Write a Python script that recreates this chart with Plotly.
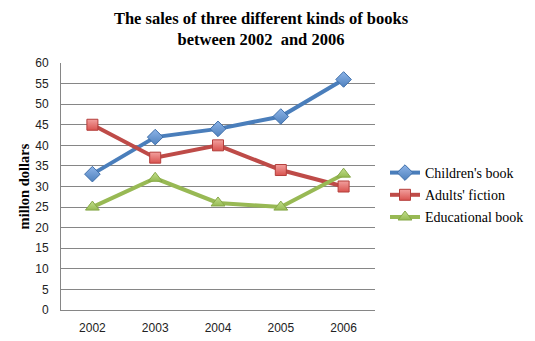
import plotly.graph_objects as go

years = ["2002", "2003", "2004", "2005", "2006"]
childrens_book = [33, 42, 44, 47, 56]
adults_fiction = [45, 37, 40, 34, 30]
educational_book = [25, 32, 26, 25, 33]

# name, values, line colour, marker light, marker dark, border, symbol, size
series = [
    ("Children's book", childrens_book, "#4A7EBB", "#8DB4E8", "#4F81BD", "#3F6FAA", "diamond", 12),
    ("Adults' fiction", adults_fiction, "#BE4B48", "#F2A09E", "#D9534F", "#B43E3B", "square", 11),
    ("Educational book", educational_book, "#98B954", "#C4E08E", "#95BA52", "#86A847", "triangle-up", 12),
]

fig = go.Figure()
for name, vals, color, light, dark, border, symbol, size in series:
    fig.add_trace(go.Scatter(
        x=years, y=vals, name=name, legendgroup=name, mode="lines+markers",
        line=dict(color=color, width=4),
        marker=dict(symbol=symbol, size=size, color=light,
                    gradient=dict(type="vertical", color=dark),
                    line=dict(color=border, width=1)),
    ))

tick_font = dict(family="Liberation Sans", size=12, color="#222")

fig.update_layout(
    width=535, height=341,
    margin=dict(l=61, r=160, t=63, b=31, autoexpand=False),
    paper_bgcolor="white", plot_bgcolor="white",
    title=dict(
        text="The sales of three different kinds of books<br>between 2002  and 2006",
        x=261 / 535, xanchor="center", y=1 - 24 / 341, yanchor="middle",
        font=dict(family="Liberation Serif", size=16.5, color="black", weight="bold"),
    ),
    xaxis=dict(
        type="category", range=[-0.5, 4.5],
        showgrid=False, showline=True, linecolor="#868686", linewidth=1,
        ticks="outside", ticklen=7, tickcolor="rgba(0,0,0,0)",
        tickfont=tick_font, automargin=False,
    ),
    yaxis=dict(
        range=[0, 60], dtick=5, showgrid=True, gridcolor="#868686", gridwidth=1,
        showline=True, linecolor="#868686", linewidth=1, zeroline=False,
        ticks="outside", ticklen=9, tickcolor="rgba(0,0,0,0)",
        tickfont=tick_font, automargin=False,
        title=dict(text="millon dollars", standoff=2,
                   font=dict(family="Liberation Serif", size=14.5, color="black", weight="bold")),
    ),
    legend=dict(
        xref="container", yref="container",
        x=385 / 535, xanchor="left", y=1 - 195 / 341, yanchor="middle",
        font=dict(family="Liberation Serif", size=14, color="black"),
        itemwidth=30, tracegroupgap=1, bgcolor="rgba(0,0,0,0)",
    ),
    showlegend=True,
)

fig.write_html("out.html")
